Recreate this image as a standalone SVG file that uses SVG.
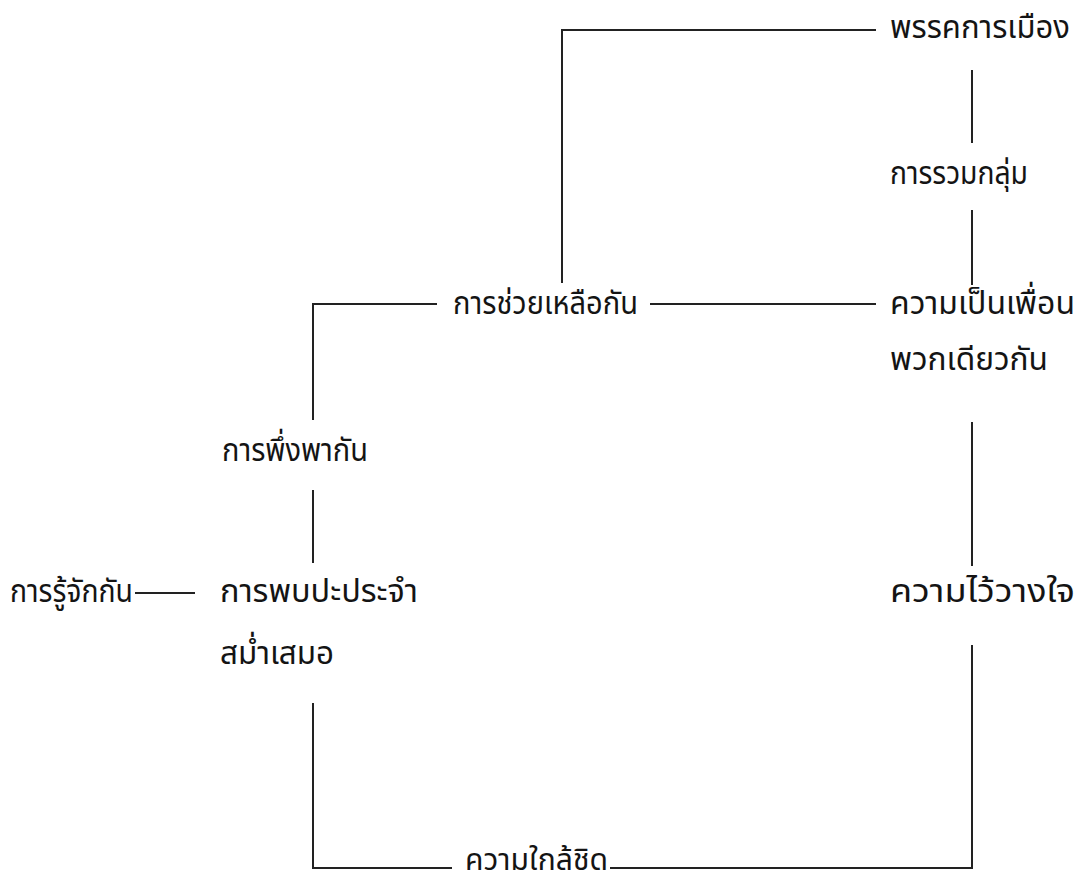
<svg xmlns="http://www.w3.org/2000/svg" width="1087" height="884" viewBox="0 0 1087 884">
<style>
.lbl { font-family: "Noto Sans Thai", "Noto Serif Thai", "Loma", "Garuda", "Norasi", "Noto Sans", "DejaVu Sans", sans-serif; font-size: 32px; fill: #141414; }
.ln { stroke: #222; stroke-width: 2; fill: none; }
</style>
<rect width="1087" height="884" fill="#ffffff"/>
<g id="connectors">
<path class="ln" d="M 876 30 H 562 V 283"/>
<path class="ln" d="M 972 70 V 143"/>
<path class="ln" d="M 972 210 V 285"/>
<path class="ln" d="M 650 304 H 876"/>
<path class="ln" d="M 437 304 H 313 V 420"/>
<path class="ln" d="M 313 490 V 563"/>
<path class="ln" d="M 135 593 H 195"/>
<path class="ln" d="M 972 422 V 566"/>
<path class="ln" d="M 313 703 V 868 H 452"/>
<path class="ln" d="M 610 868 H 972 V 645"/>
</g>
<g id="n-party"><text class="lbl" x="890" y="38" textLength="180" lengthAdjust="spacingAndGlyphs">พรรคการเมือง</text></g>
<g id="n-group"><text class="lbl" x="890" y="184" textLength="138" lengthAdjust="spacingAndGlyphs">การรวมกลุ่ม</text></g>
<g id="n-friend"><text class="lbl" x="890" y="314" textLength="185" lengthAdjust="spacingAndGlyphs">ความเป็นเพื่อน</text></g>
<g id="n-same"><text class="lbl" x="890" y="370" textLength="158" lengthAdjust="spacingAndGlyphs">พวกเดียวกัน</text></g>
<g id="n-trust"><text class="lbl" x="890" y="602" textLength="185" lengthAdjust="spacingAndGlyphs">ความไว้วางใจ</text></g>
<g id="n-help"><text class="lbl" x="453" y="314" textLength="185" lengthAdjust="spacingAndGlyphs">การช่วยเหลือกัน</text></g>
<g id="n-depend"><text class="lbl" x="222" y="461" textLength="146" lengthAdjust="spacingAndGlyphs">การพึ่งพากัน</text></g>
<g id="n-know"><text class="lbl" x="10" y="602" textLength="123" lengthAdjust="spacingAndGlyphs">การรู้จักกัน</text></g>
<g id="n-meet"><text class="lbl" x="220" y="602" textLength="198" lengthAdjust="spacingAndGlyphs">การพบปะประจำ</text></g>
<g id="n-regular"><text class="lbl" x="220" y="664" textLength="114" lengthAdjust="spacingAndGlyphs">สม่ำเสมอ</text></g>
<g id="n-close"><text class="lbl" x="465" y="870" textLength="143" lengthAdjust="spacingAndGlyphs" style="font-size:30px">ความใกล้ชิด</text></g>
</svg>
